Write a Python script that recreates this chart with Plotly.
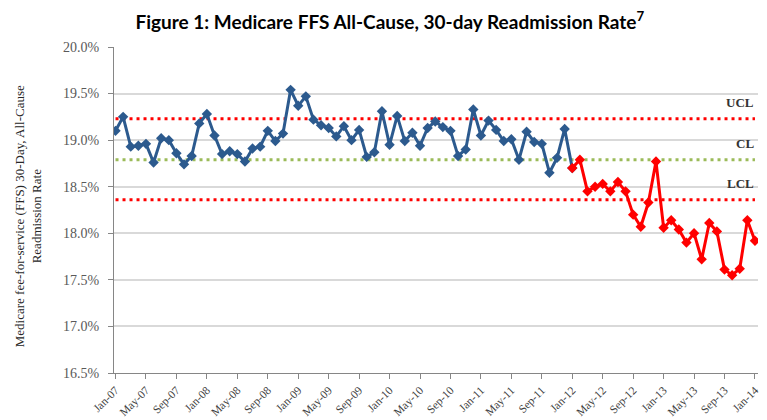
import plotly.graph_objects as go
import pandas as pd

months = [d.strftime("%b-%y") for d in pd.date_range("2007-01-01", "2014-01-01", freq="MS")]

blue_values = [19.10, 19.25, 18.93, 18.94, 18.96, 18.76, 19.02, 19.00, 18.86, 18.74,
               18.83, 19.18, 19.28, 19.05, 18.85, 18.88, 18.85, 18.77, 18.91, 18.93,
               19.10, 18.99, 19.07, 19.54, 19.37, 19.47, 19.22, 19.16, 19.13, 19.04,
               19.15, 19.00, 19.11, 18.82, 18.87, 19.31, 18.95, 19.26, 18.99, 19.08,
               18.94, 19.13, 19.20, 19.14, 19.10, 18.83, 18.90, 19.33, 19.05, 19.21,
               19.11, 18.99, 19.01, 18.79, 19.09, 18.98, 18.96, 18.65, 18.81, 19.12,
               18.70]
red_values = [18.70, 18.79, 18.45, 18.50, 18.53, 18.45, 18.55, 18.45, 18.20, 18.07,
              18.33, 18.77, 18.06, 18.14, 18.04, 17.90, 18.00, 17.72, 18.11, 18.02,
              17.61, 17.55, 17.62, 18.14, 17.92]
ucl_value = 19.23
cl_value = 18.79
lcl_value = 18.36
y_ticks = [16.5, 17.0, 17.5, 18.0, 18.5, 19.0, 19.5, 20.0]
x_ticks = months[::4]

blue_x = months[:len(blue_values)]
red_x = months[len(blue_values) - 1:]

serif = "Liberation Serif, Times New Roman, serif"
W, H = 759, 412  # page body has an 8px margin

fig = go.Figure()
for val, col in [(ucl_value, "#FF0000"), (cl_value, "#9BBB59"), (lcl_value, "#FF0000")]:
    fig.add_trace(go.Scatter(x=months, y=[val] * len(months), mode="lines",
                             line=dict(color=col, width=3, dash="3px,4px"), hoverinfo="skip"))
fig.add_trace(go.Scatter(x=blue_x, y=blue_values, mode="lines+markers",
                         line=dict(color="#2C5A8E", width=3),
                         marker=dict(symbol="diamond", size=8, color="#2C5A8E")))
fig.add_trace(go.Scatter(x=red_x, y=red_values, mode="lines+markers",
                         line=dict(color="#FF0000", width=3),
                         marker=dict(symbol="diamond", size=8, color="#FF0000")))

for label, val in [("UCL", ucl_value), ("CL", cl_value), ("LCL", lcl_value)]:
    fig.add_annotation(x=0.997, xref="paper", y=val, yref="y", text="<b>%s</b>" % label,
                       showarrow=False, xanchor="right", yanchor="middle", yshift=16,
                       font=dict(family=serif, size=13, color="#333333"))

fig.add_annotation(text="Medicare fee-for-service (FFS) 30-Day, All-Cause<br>Readmission Rate",
                   xref="paper", yref="paper", x=-0.134, y=0.48, textangle=-90,
                   xanchor="center", yanchor="middle", showarrow=False,
                   font=dict(family=serif, size=13, color="#262626"))

fig.update_layout(
    width=W, height=H,
    margin=dict(l=106, r=9, t=39, b=47),
    paper_bgcolor="white", plot_bgcolor="white",
    showlegend=False,
    title=dict(text="<b>Figure 1: Medicare FFS All-Cause, 30-day Readmission Rate<sup>7</sup></b>",
               x=0.503, xanchor="center", y=0.966, yanchor="middle",
               font=dict(family="Lato, Open Sans, sans-serif", size=19, color="#000000")),
)
fig.update_xaxes(type="category", categoryorder="array", categoryarray=months,
                 range=[-0.2, len(months) - 0.6], automargin=False,
                 tickmode="array", tickvals=x_ticks, ticktext=x_ticks, tickangle=-45,
                 ticks="outside", ticklen=5, tickcolor="#868686",
                 showline=True, linecolor="#868686", linewidth=1, showgrid=False,
                 tickfont=dict(family=serif, size=11.5, color="#404040"))
fig.update_yaxes(range=[16.5, 20.0], tickmode="array", tickvals=y_ticks,
                 ticktext=["%.1f%%" % v for v in y_ticks], automargin=False,
                 ticks="outside", ticklen=5, tickcolor="#868686", ticklabelstandoff=6,
                 showline=True, linecolor="#868686", linewidth=1,
                 showgrid=True, gridcolor="#D9D9D9", gridwidth=1.5, zeroline=False,
                 tickfont=dict(family=serif, size=14, color="#595959"))

fig.write_html("out.html")
